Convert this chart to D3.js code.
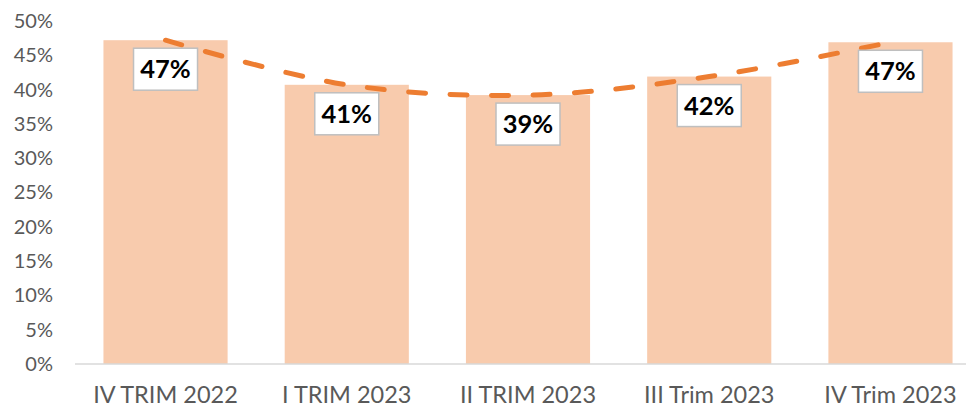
<!DOCTYPE html>
<html>
<head>
    <meta charset="UTF-8">
    <script src="https://d3js.org/d3.v7.min.js"></script>
    <style>
        body { margin: 0; background: #fff; }
        text { font-family: Lato, "Open Sans", sans-serif; }
    </style>
</head>
<body>
    <div id="chart"></div>
    <script>
        const categories = ["IV TRIM 2022", "I TRIM 2023", "II TRIM 2023", "III Trim 2023", "IV Trim 2023"];
        const values = [0.472, 0.407, 0.392, 0.419, 0.469];
        const labels = ["47%", "41%", "39%", "42%", "47%"];
        const yTicks = [0, 0.05, 0.10, 0.15, 0.20, 0.25, 0.30, 0.35, 0.40, 0.45, 0.50];

        const width = 975;
        const height = 408;

        const svg = d3.select('#chart')
            .append('svg')
            .attr('width', width)
            .attr('height', height);

        const xScale = d3.scaleBand()
            .domain(categories)
            .range([75, 981])
            .paddingInner(0.315)
            .paddingOuter(0.157);

        const yScale = d3.scaleLinear()
            .domain([0, 0.5])
            .range([364, 21]);

        // bars
        svg.selectAll('rect.bar')
            .data(values)
            .enter()
            .append('rect')
            .attr('class', 'bar')
            .attr('x', (d, i) => xScale(categories[i]))
            .attr('width', xScale.bandwidth())
            .attr('y', d => yScale(d))
            .attr('height', d => yScale(0) - yScale(d))
            .attr('fill', '#F8CBAD');

        // baseline
        svg.append('line')
            .attr('x1', 75)
            .attr('x2', 966)
            .attr('y1', yScale(0))
            .attr('y2', yScale(0))
            .attr('stroke', '#d9d9d9')
            .attr('stroke-width', 1.5);

        // y axis labels
        const yAxis = d3.axisLeft(yScale)
            .tickValues(yTicks)
            .tickFormat(d3.format('.0%'))
            .tickSize(0)
            .tickPadding(0);

        const gy = svg.append('g')
            .attr('transform', 'translate(53, 0)')
            .call(yAxis);
        gy.select('.domain').remove();
        gy.selectAll('text')
            .attr('font-size', 20)
            .attr('fill', '#595959')
            .style('font-family', 'Lato, sans-serif');

        // x axis labels
        const xAxis = d3.axisBottom(xScale).tickSize(0).tickPadding(0);
        const gx = svg.append('g')
            .attr('transform', 'translate(0, 403)')
            .call(xAxis);
        gx.select('.domain').remove();
        gx.selectAll('text')
            .attr('dy', 0)
            .attr('font-size', 23.5)
            .attr('fill', '#595959')
            .style('font-family', 'Lato, sans-serif');

        // smooth dashed line
        const line = d3.line()
            .x((d, i) => xScale(categories[i]) + xScale.bandwidth() / 2)
            .y(d => yScale(d))
            .curve(d3.curveCatmullRom.alpha(0.5));

        svg.append('path')
            .datum(values)
            .attr('fill', 'none')
            .attr('stroke', '#ED7D31')
            .attr('stroke-width', 5)
            .attr('stroke-linecap', 'round')
            .attr('stroke-dasharray', '17,24.5')
            .attr('d', line);

        // data labels
        const lbl = svg.selectAll('g.lbl')
            .data(values)
            .enter()
            .append('g')
            .attr('class', 'lbl')
            .attr('transform', (d, i) => 'translate(' + (xScale(categories[i]) + xScale.bandwidth() / 2) + ',' + (yScale(d) + 29) + ')');

        lbl.append('rect')
            .attr('x', -32)
            .attr('y', -21)
            .attr('width', 64)
            .attr('height', 42)
            .attr('fill', '#fff')
            .attr('stroke', '#bfbfbf')
            .attr('stroke-width', 1.5);

        lbl.append('text')
            .attr('text-anchor', 'middle')
            .attr('dy', '0.36em')
            .attr('font-size', 25.5)
            .attr('font-weight', 'bold')
            .attr('fill', '#000')
            .text((d, i) => labels[i]);
    </script>
</body>
</html>
